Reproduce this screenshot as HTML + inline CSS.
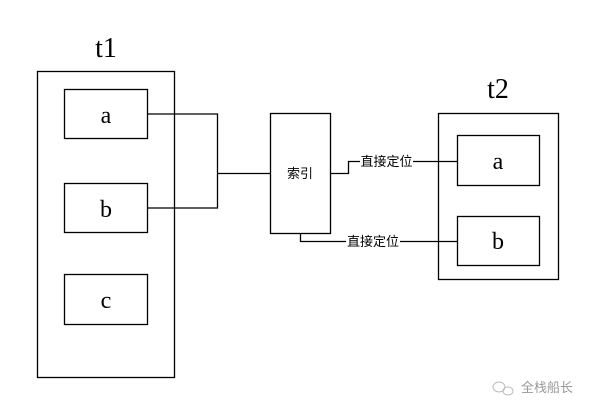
<!DOCTYPE html>
<html><head><meta charset="utf-8"><style>
html,body{margin:0;padding:0;background:#fff;width:601px;height:413px;overflow:hidden}
svg{display:block}
.t{font-family:"Liberation Serif","Noto Serif CJK SC",serif;fill:#000}
.c{font-family:"Liberation Sans","Noto Sans CJK SC",sans-serif;font-size:13px;fill:#000}
</style></head><body>
<svg width="601" height="413" viewBox="0 0 601 413" xmlns="http://www.w3.org/2000/svg">
<g fill="none" stroke="#000" stroke-width="1.3">
<rect x="37.5" y="71.5" width="137" height="306"/>
<rect x="64.5" y="89.5" width="83" height="49"/>
<rect x="64.5" y="183.5" width="83" height="49"/>
<rect x="64.5" y="274.5" width="83" height="50"/>
<rect x="270.5" y="113.5" width="60" height="120"/>
<rect x="438.5" y="113.5" width="120" height="166"/>
<rect x="457.5" y="135.5" width="82" height="50"/>
<rect x="457.5" y="216.5" width="82" height="49"/>
<polyline points="147,114 217.5,114 217.5,208 147,208"/>
<line x1="217" y1="173.5" x2="270" y2="173.5"/>
<polyline points="330,173.5 348.5,173.5 348.5,161.5 360,161.5"/>
<line x1="413" y1="161.5" x2="457" y2="161.5"/>
<polyline points="300.5,233 300.5,241.5 346,241.5"/>
<line x1="400" y1="241.5" x2="457" y2="241.5"/>
</g>
<text class="t" x="106" y="57" font-size="28" text-anchor="middle">t1</text>
<text class="t" x="498" y="98" font-size="28" text-anchor="middle">t2</text>
<text class="t" x="106" y="123" font-size="24" text-anchor="middle">a</text>
<text class="t" x="106" y="217" font-size="24" text-anchor="middle">b</text>
<text class="t" x="106" y="308" font-size="24" text-anchor="middle">c</text>
<text class="t" x="498" y="169" font-size="24" text-anchor="middle">a</text>
<text class="t" x="498" y="249" font-size="24" text-anchor="middle">b</text>
<text class="c" x="300" y="178" text-anchor="middle" font-size="14">索引</text>
<text class="c" x="386.5" y="166" text-anchor="middle">直接定位</text>
<text class="c" x="373" y="246" text-anchor="middle">直接定位</text>
<g fill="none" stroke="#bbb" stroke-width="1"><ellipse cx="499" cy="387" rx="6" ry="5"/><ellipse cx="508" cy="391" rx="5" ry="4"/></g>
<text class="c" x="521" y="392" fill="#999" style="fill:#999">全栈船长</text>
</svg>
</body></html>
